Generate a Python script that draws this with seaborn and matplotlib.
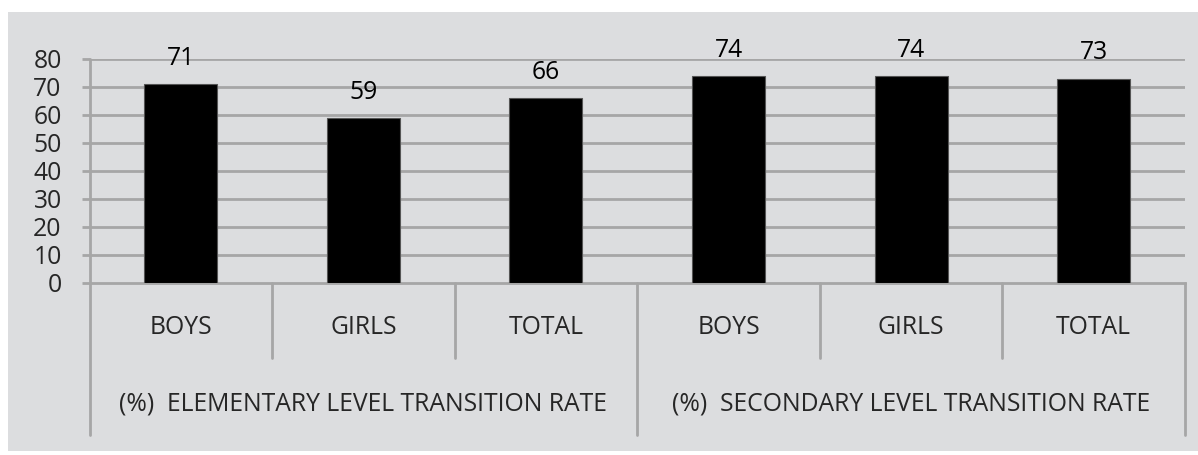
import pandas as pd
import seaborn as sns
import matplotlib
matplotlib.use("Agg")
from matplotlib import pyplot as plt
from matplotlib.patches import Rectangle

# data
levels = ["(%)  ELEMENTARY LEVEL TRANSITION RATE", "(%)  SECONDARY LEVEL TRANSITION RATE"]
groups = ["BOYS", "GIRLS", "TOTAL"]
elementary = [71, 59, 66]
secondary = [74, 74, 73]
yticks = [0, 10, 20, 30, 40, 50, 60, 70, 80]

rows = []
for lv, vals in zip(levels, [elementary, secondary]):
    for g, v in zip(groups, vals):
        rows.append({'level': lv, 'group': g, 'rate': v, 'key': lv + "|" + g})
df = pd.DataFrame(rows)

sns.set_theme(style="white")
plt.rcParams['font.family'] = ['Open Sans', 'DejaVu Sans']
FS = 17.8
LINE = '#a6a6a6'
BG = '#dcdddf'

fig = plt.figure(figsize=(11.98, 4.55), dpi=100)
fig.patch.set_facecolor('white')
fig.patches.append(Rectangle((8/1198, 1-451/455), 1, 439/455, transform=fig.transFigure,
                             facecolor=BG, edgecolor='none', zorder=-10))

ax = fig.add_axes([89.5/1198, 1-283/455, (1185-89.5)/1198, (283-59)/455])
ax.set_facecolor(BG)
ax.patch.set_alpha(0)

sns.barplot(data=df, x='key', y='rate', order=df['key'].tolist(), color='black',
            width=0.4, edgecolor='#555555', linewidth=0.8, ax=ax, zorder=3)

ax.set_ylim(0, 80)
ax.set_xlim(-0.5, len(df) - 0.5)
ax.set_yticks(yticks)
ax.set_yticklabels([str(t) for t in yticks], fontsize=FS)
for t in yticks[1:]:
    ax.axhline(t, color=LINE, lw=2, zorder=1)
ax.tick_params(axis='y', length=6, width=2, color=LINE, pad=14, left=True)
ax.tick_params(axis='x', bottom=False, labelbottom=False)
ax.set_xlabel("")
ax.set_ylabel("")
for s in ['top', 'right', 'left']:
    ax.spines[s].set_visible(False)
ax.spines['bottom'].set_color(LINE)
ax.spines['bottom'].set_linewidth(2)

# value labels
for i, v in enumerate(df['rate']):
    ax.annotate(str(v), (i, v), xytext=(0, 18.5), textcoords='offset points',
                ha='center', va='center', fontsize=FS, color='black')

# multi-level category axis
tr = ax.get_xaxis_transform()
long_drop = -(435 - 59) / (283 - 59) + 1
short_drop = -(358 - 59) / (283 - 59) + 1
ax.plot([-0.5, -0.5], [1, long_drop], color=LINE, lw=2, transform=tr, clip_on=False)
for b in [0.5, 1.5, 3.5, 4.5]:
    ax.plot([b, b], [0, short_drop], color=LINE, lw=2, transform=tr, clip_on=False)
for b in [2.5, 5.5]:
    ax.plot([b, b], [0, long_drop], color=LINE, lw=2, transform=tr, clip_on=False)

row1 = 1 - (327 - 59) / (283 - 59)
row2 = 1 - (404 - 59) / (283 - 59)
for i, g in enumerate(df['group']):
    ax.text(i, row1, g, transform=tr, ha='center', va='center', fontsize=FS)
for j, lv in enumerate(levels):
    ax.text(j * 3 + 1, row2, lv, transform=tr, ha='center', va='center', fontsize=FS)

fig.savefig('out.png', dpi=100, facecolor=fig.get_facecolor())
